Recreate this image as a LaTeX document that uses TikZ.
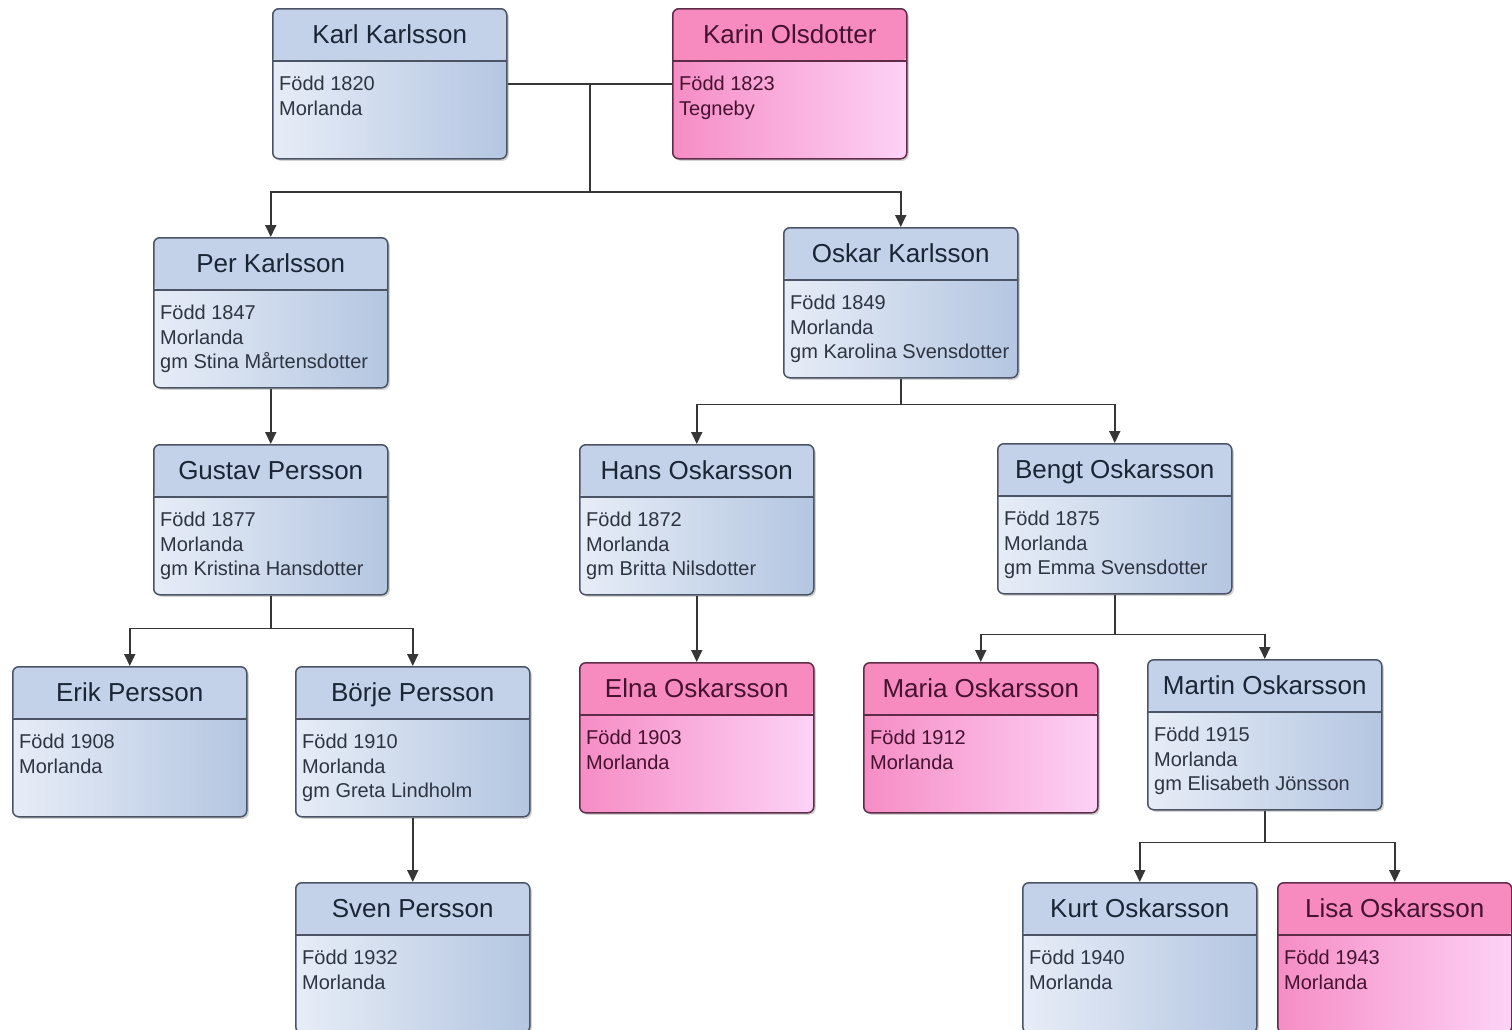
\documentclass[tikz,border=0pt]{standalone}
\usepackage{fontspec}
\setmainfont{Liberation Sans}
\usetikzlibrary{arrows.meta,shadows,calc,positioning}

\definecolor{bluehead}{HTML}{C3D2E9}
\definecolor{bluelight}{HTML}{E7EDF7}
\definecolor{bluedark}{HTML}{B4C6E1}
\definecolor{blueline}{HTML}{4A5465}
\definecolor{bluetext}{HTML}{1A2536}
\definecolor{bluebody}{HTML}{2E3542}
\definecolor{pinkhead}{HTML}{F78BBF}
\definecolor{pinklight}{HTML}{F68DC5}
\definecolor{pinkdark}{HTML}{FDD2F7}
\definecolor{pinkline}{HTML}{5E2C48}
\definecolor{pinktext}{HTML}{45122F}
\definecolor{linegray}{HTML}{363636}

\begin{document}
\begin{tikzpicture}[x=1pt,y=-1pt,
  person/.style={rectangle,rounded corners=6pt,line width=1.5pt,minimum width=234pt,inner sep=3pt,anchor=north west,
    text height=32pt,text depth=112pt,font=\fontsize{26}{30}\selectfont,
    drop shadow={shadow xshift=2pt,shadow yshift=-2pt,opacity=0.35}},
  man/.style={person,draw=blueline,left color=bluelight,right color=bluedark,text=bluetext,
    path picture={\fill[bluehead] (path picture bounding box.north west) rectangle ([yshift=-52pt]path picture bounding box.north east);
      \draw[blueline,line width=1.5pt] ([yshift=-52pt]path picture bounding box.north west) -- ([yshift=-52pt]path picture bounding box.north east);}},
  woman/.style={person,draw=pinkline,left color=pinklight,right color=pinkdark,text=pinktext,
    path picture={\fill[pinkhead] (path picture bounding box.north west) rectangle ([yshift=-52pt]path picture bounding box.north east);
      \draw[pinkline,line width=1.5pt] ([yshift=-52pt]path picture bounding box.north west) -- ([yshift=-52pt]path picture bounding box.north east);}},
  mtext/.style={anchor=north west,inner sep=0pt,align=left,xshift=7pt,yshift=-68pt,text=bluebody,font=\fontsize{20}{24.5}\selectfont},
  wtext/.style={mtext,text=pinktext},
  conn/.style={draw=linegray,line width=1.8pt},
  arr/.style={conn,-{Triangle[length=12pt,width=11pt]}}]
\useasboundingbox (0,0) rectangle (1512,1029);

% generation 1
\node[man] at (272,8) (karl) {Karl Karlsson};
\node[mtext] at (karl.north west) (karlb) {Född 1820\\Morlanda};
\node[woman] at (672,8) (karin) {Karin Olsdotter};
\node[wtext] at (karin.north west) (karinb) {Född 1823\\Tegneby};

% generation 2
\node[man] at (153,237) (per) {Per Karlsson};
\node[mtext] at (per.north west) (perb) {Född 1847\\Morlanda\\gm Stina Mårtensdotter};
\node[man] at (783,227) (oskar) {Oskar Karlsson};
\node[mtext] at (oskar.north west) (oskarb) {Född 1849\\Morlanda\\gm Karolina Svensdotter};

% generation 3
\node[man] at (153,444) (gustav) {Gustav Persson};
\node[mtext] at (gustav.north west) (gustavb) {Född 1877\\Morlanda\\gm Kristina Hansdotter};
\node[man] at (579,444) (hans) {Hans Oskarsson};
\node[mtext] at (hans.north west) (hansb) {Född 1872\\Morlanda\\gm Britta Nilsdotter};
\node[man] at (997,443) (bengt) {Bengt Oskarsson};
\node[mtext] at (bengt.north west) (bengtb) {Född 1875\\Morlanda\\gm Emma Svensdotter};

% generation 4
\node[man] at (12,666) (erik) {Erik Persson};
\node[mtext] at (erik.north west) (erikb) {Född 1908\\Morlanda};
\node[man] at (295,666) (borje) {Börje Persson};
\node[mtext] at (borje.north west) (borjeb) {Född 1910\\Morlanda\\gm Greta Lindholm};
\node[woman] at (579,662) (elna) {Elna Oskarsson};
\node[wtext] at (elna.north west) (elnab) {Född 1903\\Morlanda};
\node[woman] at (863,662) (maria) {Maria Oskarsson};
\node[wtext] at (maria.north west) (mariab) {Född 1912\\Morlanda};
\node[man] at (1147,659) (martin) {Martin Oskarsson};
\node[mtext] at (martin.north west) (martinb) {Född 1915\\Morlanda\\gm Elisabeth Jönsson};

% generation 5
\node[man] at (295,882) (sven) {Sven Persson};
\node[mtext] at (sven.north west) (svenb) {Född 1932\\Morlanda};
\node[man] at (1022,882) (kurt) {Kurt Oskarsson};
\node[mtext] at (kurt.north west) (kurtb) {Född 1940\\Morlanda};
\node[woman] at (1277,882) (lisa) {Lisa Oskarsson};
\node[wtext] at (lisa.north west) (lisab) {Född 1943\\Morlanda};

% connectors
\draw[conn] (karl.east) -- (karin.west);
\coordinate (kk) at ($(karl.east)!0.5!(karin.west)$);
\draw[conn] (kk) -- ++(0,108) coordinate (j1);
\draw[arr] (j1) -| (per.north);
\draw[arr] (j1) -| (oskar.north);
\draw[arr] (per.south) -- (gustav.north);
\draw[conn] (oskar.south) -- ++(0,26) coordinate (j2);
\draw[arr] (j2) -| (hans.north);
\draw[arr] (j2) -| (bengt.north);
\draw[conn] (gustav.south) -- ++(0,33) coordinate (j3);
\draw[arr] (j3) -| (erik.north);
\draw[arr] (j3) -| (borje.north);
\draw[arr] (hans.south) -- (elna.north);
\draw[conn] (bengt.south) -- ++(0,40) coordinate (j4);
\draw[arr] (j4) -| (maria.north);
\draw[arr] (j4) -| (martin.north);
\draw[arr] (borje.south) -- (sven.north);
\draw[conn] (martin.south) -- ++(0,32) coordinate (j5);
\draw[arr] (j5) -| (kurt.north);
\draw[arr] (j5) -| (lisa.north);
\end{tikzpicture}
\end{document}
